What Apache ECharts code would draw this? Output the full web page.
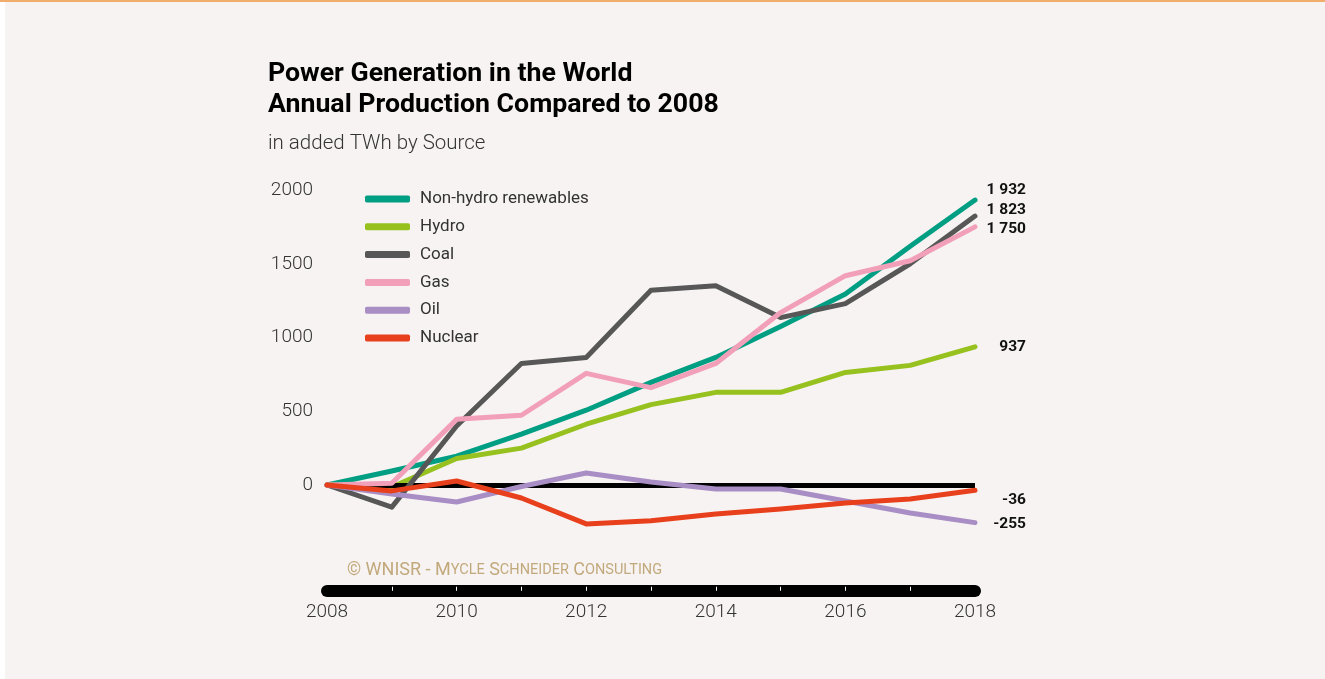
<!DOCTYPE html>
<html>
<head>
<meta charset="utf-8">
<script src="https://cdn.jsdelivr.net/npm/echarts@6/dist/echarts.min.js"></script>
<style>
html,body{margin:0;padding:0;background:#ffffff;}
#chart{width:1325px;height:679px;}
</style>
</head>
<body>
<div id="chart"></div>
<script>
const years = ['2008','2009','2010','2011','2012','2013','2014','2015','2016','2017','2018'];
const seriesNames = ['Non-hydro renewables','Hydro','Coal','Gas','Oil','Nuclear'];
const nonHydro = [0, 95, 195, 345, 507, 696, 865, 1075, 1295, 1618, 1932];
const hydro    = [0, -13, 180, 250, 412, 545, 628, 628, 763, 811, 937];
const coal     = [0, -150, 400, 824, 865, 1320, 1351, 1135, 1230, 1500, 1823];
const gas      = [0, 12, 445, 473, 757, 660, 824, 1169, 1419, 1520, 1750];
const oil      = [0, -61, -115, -10, 81, 20, -27, -27, -108, -190, -255];
const nuclear  = [0, -40, 27, -88, -264, -243, -196, -162, -122, -95, -36];
const yTicks = [0, 500, 1000, 1500, 2000];

const colors = ['#009e82','#97c11f','#575757','#f29fba','#a88ec4','#e8401c'];
const labelDy = [-10, 0, -6, 2, 2, 10];
const dataSets = [nonHydro, hydro, coal, gas, oil, nuclear];

function fmt(v){
  const s = String(Math.abs(v)).replace(/\B(?=(\d{3})+(?!\d))/g, ' ');
  return (v < 0 ? '-' : '') + s;
}

const FONT = 'Roboto, "Noto Sans", sans-serif';
const chart = echarts.init(document.getElementById('chart'), null, {renderer:'canvas'});

const series = dataSets.map((d, i) => ({
  name: seriesNames[i],
  type: 'line',
  data: d,
  symbol: 'none',
  z: 3 + i,
  lineStyle: {width: 5, color: colors[i], cap: 'round', join: 'round'},
  itemStyle: {color: colors[i]},
  endLabel: {
    show: true,
    formatter: p => fmt(p.value),
    position: 'right',
    distance: 51,
    align: 'right',
    verticalAlign: 'middle',
    offset: [0, labelDy[i]],
    fontFamily: FONT,
    fontWeight: 'bold',
    fontSize: 15.5,
    color: '#111'
  }
}));
series.push({
  name: 'zero',
  type: 'line',
  data: [],
  z: 1,
  markLine: {
    silent: true,
    symbol: ['none','none'],
    label: {show: false},
    lineStyle: {color: '#000', width: 5, type: 'solid'},
    data: [{yAxis: 0}]
  }
});

chart.setOption({
  backgroundColor: '#ffffff',
  animation: false,
  graphic: [
    {type:'rect', left: 5, top: 0, shape:{width:1320, height:679}, style:{fill:'#f7f3f2'}, z:-10},
    {type:'rect', left: 0, top: 0, shape:{width:1325, height:2}, style:{fill:'#f2ad6c'}, z:-5},
    {type:'text', left: 268, top: 59, style:{text:'Power Generation in the World\nAnnual Production Compared to 2008', font:'bold 26.7px ' + FONT, fill:'#000', lineHeight:31}},
    {type:'text', left: 268, top: 133, style:{text:'in added TWh by Source', font:'300 20.5px ' + FONT, fill:'#333'}},
    {type:'text', left: 347, top: 561, style:{
      text:'© WNISR - M{s|YCLE} S{s|CHNEIDER} C{s|ONSULTING}',
      fontFamily: FONT, fontSize: 18, fill:'#c2a97c',
      rich:{s:{fontFamily: FONT, fontSize: 14.5, fill:'#c2a97c'}}
    }}
  ],
  legend: {
    data: seriesNames,
    orient: 'vertical',
    left: 360,
    top: 185,
    itemWidth: 45,
    itemHeight: 7,
    itemGap: 9.8,
    icon: 'roundRect',
    textStyle: {fontFamily: FONT, fontSize: 17, color: '#333', padding: [0,0,0,5], lineHeight: 18}
  },
  grid: {left: 327, right: 350, top: 190, bottom: 120.25, containLabel: false},
  xAxis: {
    type: 'category',
    data: years,
    boundaryGap: false,
    offset: 32,
    axisLine: {onZero: false, lineStyle: {color: '#000', width: 12, cap: 'round'}},
    axisTick: {show: true, inside: true, length: 4, interval: i => i > 0 && i < years.length - 1, lineStyle: {color: '#fff', width: 1}},
    axisLabel: {interval: 1, fontFamily: FONT, fontSize: 19, color: '#333', margin: 12, fontWeight: 300},
    splitLine: {show: false}
  },
  yAxis: {
    type: 'value',
    min: -500,
    max: 2000,
    interval: 500,
    axisLine: {show: false},
    axisTick: {show: false},
    splitLine: {show: false},
    axisLabel: {
      formatter: v => (yTicks.indexOf(v) >= 0 ? String(v) : ''),
      fontFamily: FONT, fontSize: 19, color: '#333', margin: 14, fontWeight: 300
    }
  },
  series: series
});
</script>
</body>
</html>
